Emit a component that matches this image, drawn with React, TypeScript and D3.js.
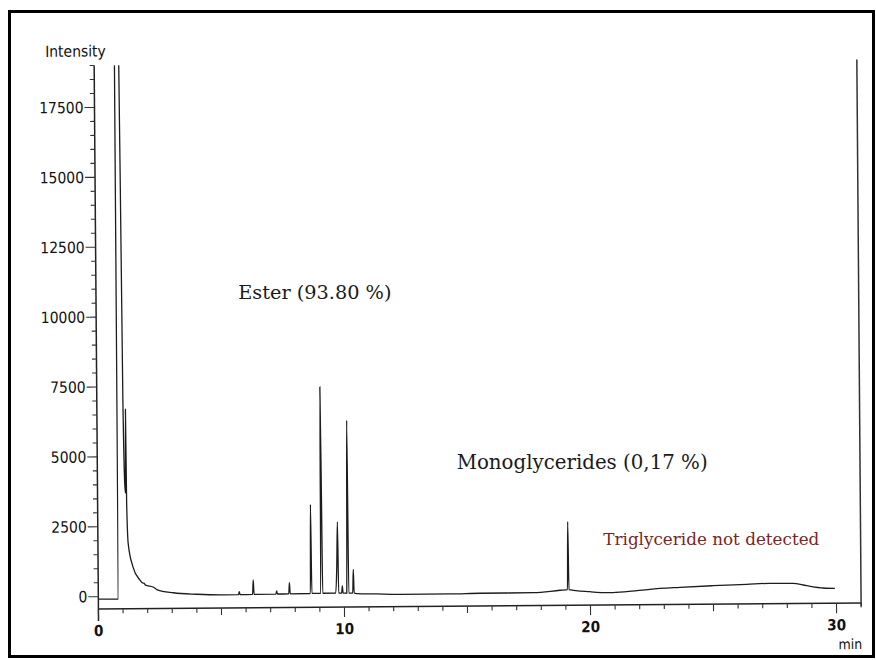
import React from "react";
import * as d3 from "d3";

// chromatogram trace: retention time (min) and detector intensity
const retentionTimes = [
  0.0, 0.81, 0.83, 0.97, 1.06, 1.11, 1.14, 1.16, 1.18, 1.23, 1.42, 1.7, 1.8, 1.86, 1.92, 2.23, 2.4, 3.05,
  4.0, 5.08, 5.7, 5.73, 5.76, 6.27, 6.3, 6.33, 7.22, 7.25, 7.28, 7.74, 7.77, 7.8, 8.62, 8.65, 8.68,
  9.04, 9.07, 9.1, 9.12, 9.65, 9.7, 9.74, 9.77, 9.89, 9.92, 9.95, 10.1, 10.12, 10.15, 10.18, 10.34,
  10.37, 10.4, 10.5, 11.3, 12.3, 14.3, 15.5, 17.7, 18.77, 19.07, 19.1, 19.13, 19.98, 20.8, 21.47,
  22.42, 23.64, 24.98, 26.35, 27.3, 28.23, 28.79, 29.46, 29.94,
];
const intensities = [
  -90, -90, 24000, 24000, 7000, 4000, 3700, 6700, 3400, 1900, 1050, 580, 480, 470, 400, 330, 230, 120,
  60, 30, 35, 140, 35, 40, 560, 40, 45, 155, 45, 50, 450, 50, 55, 3240, 55,
  55, 7440, 3400, 60, 60, 1000, 2610, 60, 60, 320, 60, 60, 2500, 6240, 60, 60,
  900, 60, 40, 20, 0, 0, 15, 20, 100, 120, 2550, 120, 40, 0, 30,
  110, 170, 220, 260, 290, 283, 195, 107, 90,
];

const yTickValues = [0, 2500, 5000, 7500, 10000, 12500, 15000, 17500];
const xTickValues = [0, 10, 20, 30];

const esterNote = "Ester (93.80 %)";
const monoNote = "Monoglycerides (0,17 %)";
const triNote = "Triglyceride not detected";

const W = 876;
const H = 660;
const axisFont = '"DejaVu Sans Condensed", "DejaVu Sans", sans-serif';
const noteFont = '"DejaVu Serif", serif';

export default function App() {
  const x = d3.scaleLinear().domain([0, 31]).range([96.3, 859]);
  const y = d3.scaleLinear().domain([-440, 19000]).range([606, 62.5]);
  const [x0, x1] = x.range();
  const [yb, yt] = y.range();

  const points = retentionTimes.map((t, i) => [t, intensities[i]] as [number, number]);
  const line = d3
    .line<[number, number]>()
    .x((d) => x(d[0]))
    .y((d) => y(d[1]))
    .curve(d3.curveMonotoneX);

  const minorY = d3.range(0, 19001, 500);
  const minorX = d3.range(0, 32, 1);

  return (
    <svg
      width={W}
      height={H}
      style={{ position: "absolute", left: 0, top: 0, display: "block" }}
    >
      <rect width={W} height={H} fill="#fff" />
      <defs>
        <clipPath id="plot">
          <rect x={x0} y={yt} width={x1 - x0} height={yb - yt} />
        </clipPath>
        <linearGradient id="fadeL" x1="0" x2="1" y1="0" y2="0">
          <stop offset="0" stopColor="#333" />
          <stop offset="1" stopColor="#ddd" />
        </linearGradient>
        <linearGradient id="fadeR" x1="0" x2="1" y1="0" y2="0">
          <stop offset="0" stopColor="#ddd" />
          <stop offset="1" stopColor="#333" />
        </linearGradient>
      </defs>

      {/* the scan is turned a little, so the whole plot is too */}
      <g transform="rotate(-0.45 478 336)">
        <path
          d={line(points) ?? ""}
          fill="none"
          stroke="#1c1c1c"
          strokeWidth={1.3}
          clipPath="url(#plot)"
        />

        {/* frame */}
        <line x1={x0} x2={x0} y1={yt} y2={yb + 12} stroke="#222" strokeWidth={1.5} />
        <line x1={x0} x2={x1} y1={yb} y2={yb} stroke="#222" strokeWidth={1.5} />
        <line x1={x1} x2={x1} y1={yt} y2={yb + 3} stroke="#333" strokeWidth={1.5} />
        <line x1={x0} x2={x0 + 36} y1={yt} y2={yt} stroke="url(#fadeL)" strokeWidth={1.5} />
        <line x1={x1 - 62} x2={x1} y1={yt} y2={yt} stroke="url(#fadeR)" strokeWidth={1.5} />

        {/* y ticks */}
        {minorY.map((v) => (
          <line
            key={"ym" + v}
            x1={x0}
            x2={x0 - (v % 2500 === 0 ? 10 : 4.5)}
            y1={y(v)}
            y2={y(v)}
            stroke="#333"
            strokeWidth={1.1}
          />
        ))}
        {yTickValues.map((v) => (
          <text
            key={"yl" + v}
            x={x0 - 11}
            y={y(v) + 5.5}
            textAnchor="end"
            fontFamily={axisFont}
            fontSize={15.5}
            fill="#111"
          >
            {v}
          </text>
        ))}

        {/* x ticks */}
        {minorX.map((t) => (
          <line
            key={"xm" + t}
            x1={x(t)}
            x2={x(t)}
            y1={yb}
            y2={yb + (t % 10 === 0 ? 10 : t % 5 === 0 ? 7 : 4.5)}
            stroke="#333"
            strokeWidth={1.1}
          />
        ))}
        {xTickValues.map((t) => (
          <text
            key={"xl" + t}
            x={x(t)}
            y={yb + 27}
            textAnchor="middle"
            fontFamily={axisFont}
            fontWeight="bold"
            fontSize={15}
            fill="#111"
          >
            {t}
          </text>
        ))}

        <text x={77.7} y={53.5} textAnchor="middle" fontFamily={axisFont} fontSize={15.5} fill="#111">
          Intensity
        </text>
        <text x={848} y={652} textAnchor="middle" fontFamily={axisFont} fontSize={14} fill="#111">
          min
        </text>
      </g>

      {/* notes typed onto the scan */}
      <text x={238.3} y={299} fontFamily={noteFont} fontSize={19.3} fill="#1a1a1a">
        {esterNote}
      </text>
      <text x={456.7} y={469.3} fontFamily={noteFont} fontSize={19.8} fill="#1a1a1a">
        {monoNote}
      </text>
      <text x={603.3} y={545} fontFamily={noteFont} fontSize={16.8} fill="#7d2424">
        {triNote}
      </text>

      <rect x={9.5} y={11.5} width={864} height={645} fill="none" stroke="#000" strokeWidth={3} />
    </svg>
  );
}
